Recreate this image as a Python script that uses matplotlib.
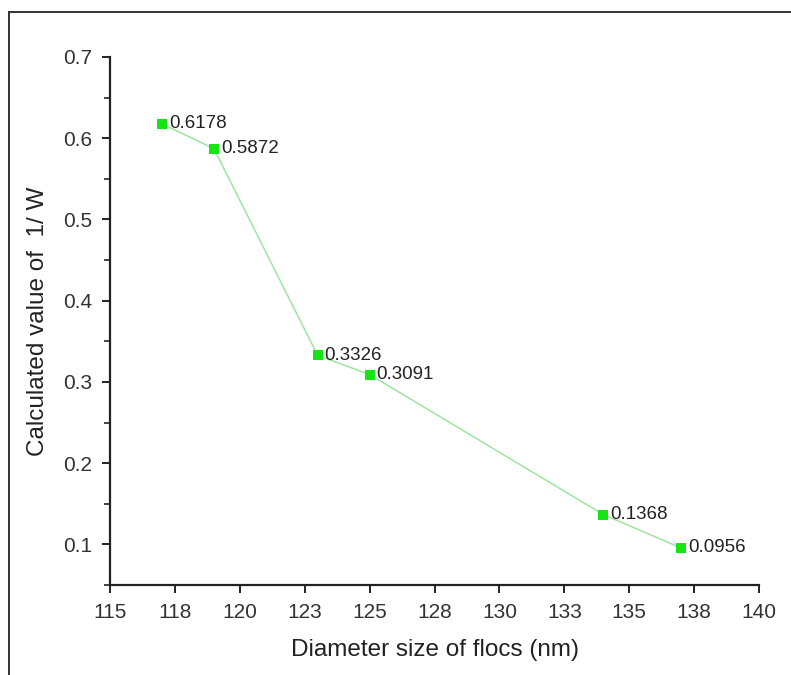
import matplotlib
matplotlib.use("Agg")
import matplotlib.pyplot as plt
from matplotlib.lines import Line2D
from matplotlib.ticker import MultipleLocator

# data
diameter = [117, 119, 123, 125, 134, 137]
inv_w = [0.6178, 0.5872, 0.3326, 0.3091, 0.1368, 0.0956]
point_labels = ["0.6178", "0.5872", "0.3326", "0.3091", "0.1368", "0.0956"]

x_ticks = [115, 117.5, 120, 122.5, 125, 127.5, 130, 132.5, 135, 137.5, 140]
x_ticklabels = ["115", "118", "120", "123", "125", "128", "130", "133", "135", "138", "140"]
y_ticks = [0.1, 0.2, 0.3, 0.4, 0.5, 0.6, 0.7]

plt.rcParams['font.family'] = ['Liberation Sans', 'DejaVu Sans']

fig = plt.figure(figsize=(7.91, 6.75), dpi=100)
ax = fig.add_axes([0.1391, 0.1333, 0.8205, 0.7823])

ax.plot(diameter, inv_w, color="#9fe59f", linewidth=1.1, zorder=2)
ax.plot(diameter, inv_w, linestyle="none", marker="s", markersize=7,
        color="#14e614", markeredgewidth=0, zorder=3)

for x, y, lab in zip(diameter, inv_w, point_labels):
    ax.annotate(lab, (x, y), xytext=(5, 0), textcoords="offset points",
                ha="left", va="center", fontsize=13.5, color="#222222")

ax.set_xlim(115, 140)
ax.set_ylim(0.05, 0.7)
ax.set_xticks(x_ticks)
ax.set_xticklabels(x_ticklabels)
ax.set_yticks(y_ticks)
ax.yaxis.set_minor_locator(MultipleLocator(0.05))

ax.spines['top'].set_visible(False)
ax.spines['right'].set_visible(False)
for s in ['left', 'bottom']:
    ax.spines[s].set_linewidth(1.6)
    ax.spines[s].set_color("#222222")

ax.tick_params(axis='both', which='major', direction='out', length=6, width=1.4,
               labelsize=15, labelcolor="#333333", color="#222222", pad=7)
ax.tick_params(axis='y', which='minor', direction='out', length=4, width=1.2, color="#222222")

ax.set_xlabel("Diameter size of flocs (nm)", fontsize=17.5, color="#222222", labelpad=12)
ax.set_ylabel("Calculated value of  1/ W", fontsize=17.5, color="#222222", labelpad=10)

# outer frame lines (left and top only visible in the reference)
fig.add_artist(Line2D([9 / 791, 9 / 791], [0, 1 - 12 / 675], transform=fig.transFigure,
                      color="#333333", linewidth=1.4))
fig.add_artist(Line2D([9 / 791, 1], [1 - 12 / 675, 1 - 12 / 675], transform=fig.transFigure,
                      color="#333333", linewidth=1.4))

fig.savefig("out.png", dpi=100)
